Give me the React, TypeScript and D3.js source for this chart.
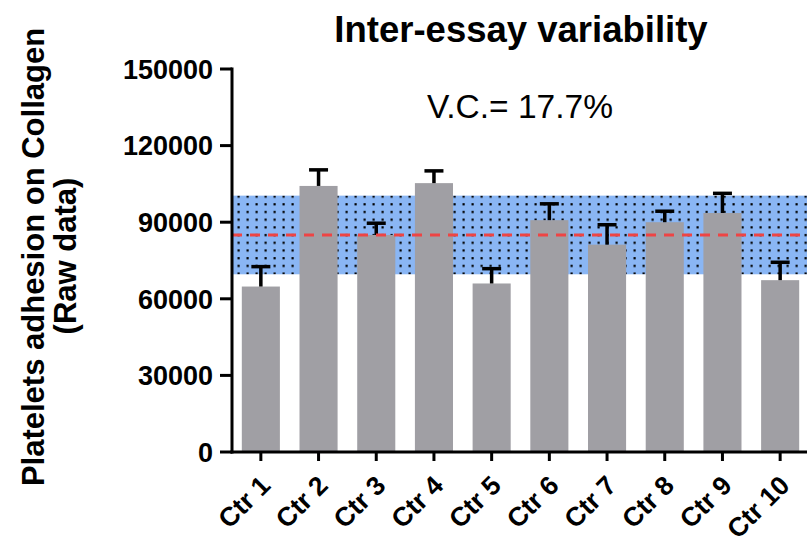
import React from "react";
import * as d3 from "d3";

const categories = ["Ctr 1", "Ctr 2", "Ctr 3", "Ctr 4", "Ctr 5", "Ctr 6", "Ctr 7", "Ctr 8", "Ctr 9", "Ctr 10"];
const means = [64800, 104200, 85000, 105300, 66000, 90800, 81200, 90000, 93600, 67300];
const sds = [7800, 6300, 4600, 4800, 5800, 6400, 7800, 4300, 7700, 7000];
const yTicks = [0, 30000, 60000, 90000, 120000, 150000];
const bandMean = 85000;
const bandSD = 15400;
const vcText = "V.C.= 17.7%";

const W = 807, H = 536;
const left = 232, right = 809, top = 69, bottom = 452;

export default function App() {
  const x = d3.scaleBand<string>().domain(categories).range([left, right]).paddingInner(0.34).paddingOuter(0.17);
  const y = d3.scaleLinear().domain([0, 150000]).range([bottom, top]);
  const font = "'Liberation Sans', Arial, sans-serif";
  return (
    <svg width={W} height={H} style={{ position: "absolute", left: 0, top: 0 }} fontFamily={font}>
      <defs>
        <pattern id="dots" width={9} height={7.7} patternUnits="userSpaceOnUse">
          <rect width={9} height={7.7} fill="#8ab6f4" />
          <rect x={3.5} y={3} width={2.2} height={2.2} fill="#000" />
        </pattern>
      </defs>
      <rect x={left} y={y(bandMean + bandSD)} width={W - left} height={y(bandMean - bandSD) - y(bandMean + bandSD)} fill="url(#dots)" />
      {categories.map((c, i) => {
        const bx = x(c)!;
        const cx = bx + x.bandwidth() / 2;
        return (
          <g key={c}>
            <rect x={bx} y={y(means[i])} width={x.bandwidth()} height={bottom - y(means[i])} fill="#a09fa4" />
            <line x1={cx} x2={cx} y1={y(means[i])} y2={y(means[i] + sds[i])} stroke="#000" strokeWidth={3.5} />
            <line x1={cx - 9.5} x2={cx + 9.5} y1={y(means[i] + sds[i])} y2={y(means[i] + sds[i])} stroke="#000" strokeWidth={3.5} />
          </g>
        );
      })}
      <line x1={left} x2={W} y1={y(bandMean)} y2={y(bandMean)} stroke="#ee4444" strokeWidth={3} strokeDasharray="10 8" />
      {/* y axis */}
      <line x1={left} x2={left} y1={top - 1.5} y2={bottom + 1.5} stroke="#000" strokeWidth={3} />
      {yTicks.map((t) => (
        <g key={t}>
          <line x1={left - 12} x2={left} y1={y(t)} y2={y(t)} stroke="#000" strokeWidth={3} />
          <text x={left - 19} y={y(t)} dy="0.36em" textAnchor="end" fontSize={27} fontWeight="bold">{t}</text>
        </g>
      ))}
      {/* x axis */}
      <line x1={left - 1.5} x2={W} y1={bottom} y2={bottom} stroke="#000" strokeWidth={3} />
      {categories.map((c) => {
        const cx = x(c)! + x.bandwidth() / 2;
        return (
          <g key={c}>
            <line x1={cx} x2={cx} y1={bottom} y2={bottom + 9} stroke="#000" strokeWidth={3} />
            <text transform={`translate(${cx + 11},${bottom + 35}) rotate(-45)`} textAnchor="end" fontSize={26.5} fontWeight="bold">{c}</text>
          </g>
        );
      })}
      <text x={521} y={42} textAnchor="middle" fontSize={36.5} fontWeight="bold">Inter-essay variability</text>
      <text x={520} y={118} textAnchor="middle" fontSize={33.5}>{vcText}</text>
      <text transform={`translate(44,257) rotate(-90)`} textAnchor="middle" fontSize={31} fontWeight="bold">Platelets adhesion on Collagen</text>
      <text transform={`translate(76,256) rotate(-90)`} textAnchor="middle" fontSize={31} fontWeight="bold">(Raw data)</text>
    </svg>
  );
}
